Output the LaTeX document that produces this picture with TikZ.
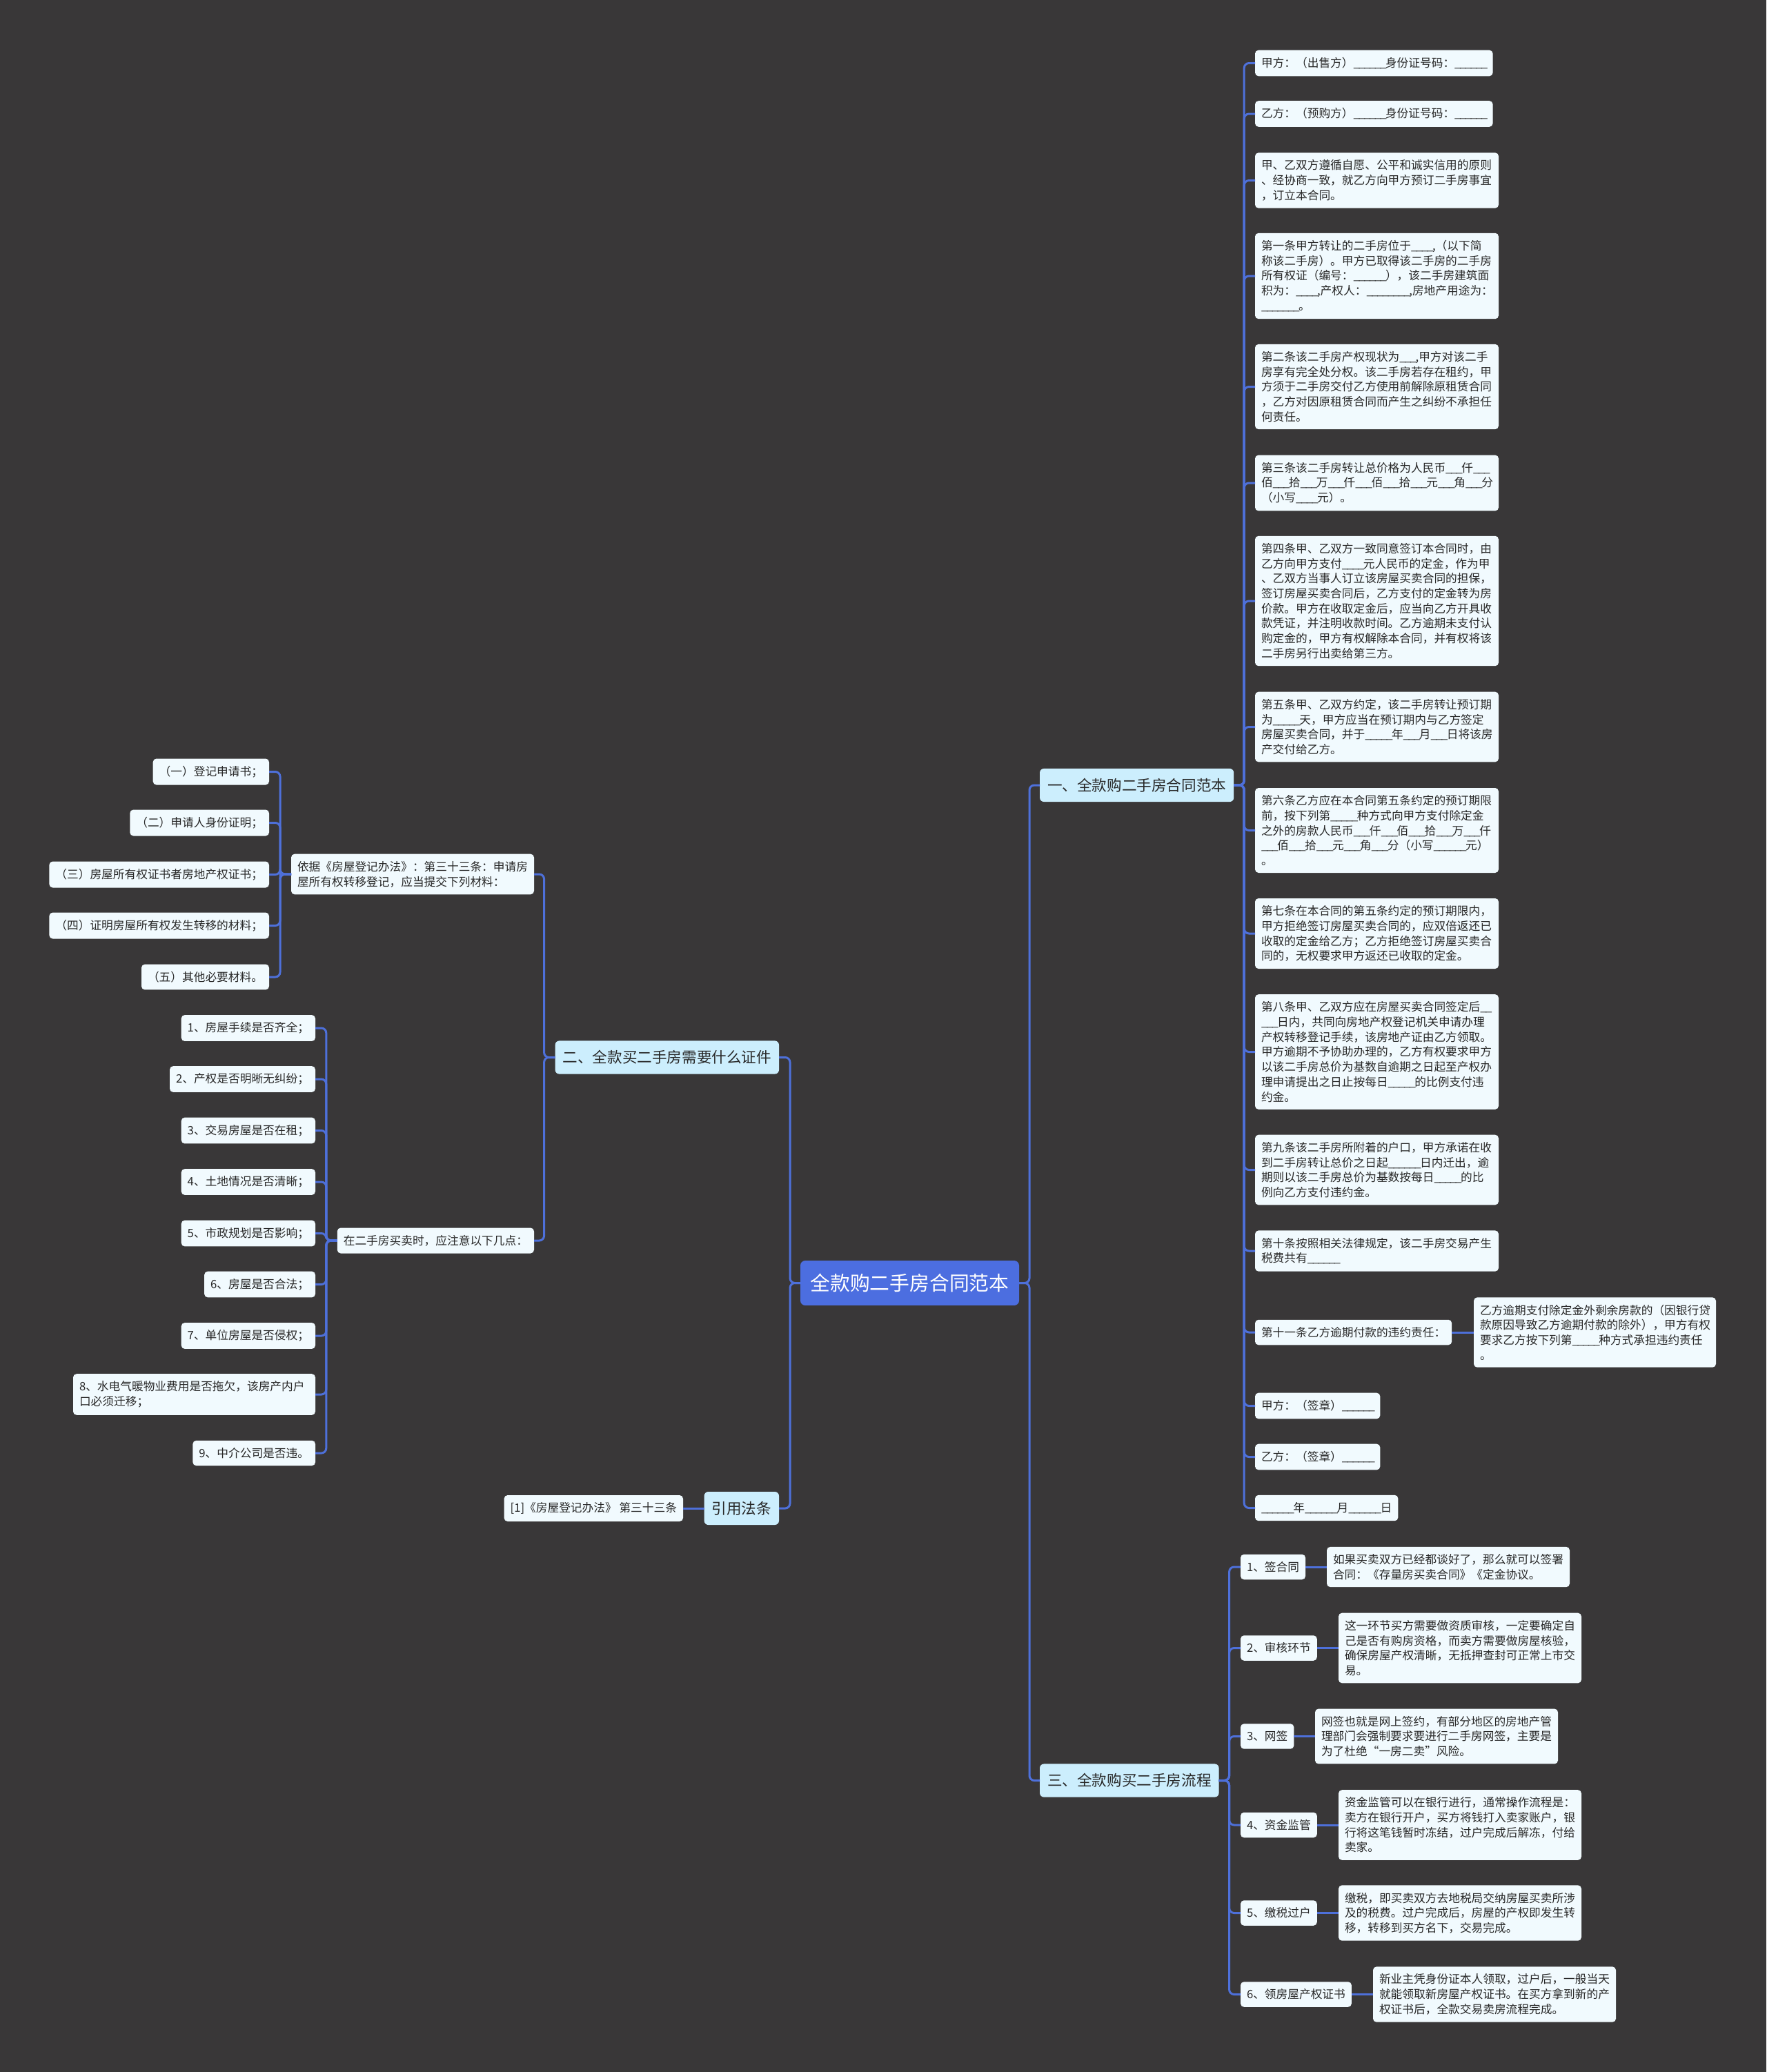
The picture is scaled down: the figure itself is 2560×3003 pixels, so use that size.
\documentclass[tikz,border=0pt]{standalone}
\usepackage{fontspec}
\setmainfont{Noto Sans CJK SC}
\definecolor{bgc}{RGB}{57,55,56}
\definecolor{leafc}{RGB}{241,250,254}
\definecolor{lvlc}{RGB}{204,238,253}
\definecolor{rootc}{RGB}{76,110,224}
\definecolor{linec}{RGB}{78,112,218}
\definecolor{txtc}{RGB}{40,40,40}
\newcommand\mmS{\fontsize{16.7}{21.7}\selectfont}
\newcommand\mmL{\fontsize{21.6}{26}\selectfont}
\newcommand\mmR{\fontsize{28.8}{34}\selectfont}
\newcommand\bl[1]{\foreach \i in {1,...,#1}{\_\kern-1.6pt}}
\begin{document}
\begin{tikzpicture}[x=1pt,y=-1pt,
  leaf/.style={fill=leafc, rounded corners=5pt, inner xsep=9pt, inner ysep=10.5pt, font=\mmS, text=txtc, outer sep=0pt},
  leafw/.style={leaf, text width=335pt, align=left},
  lvl/.style={fill=lvlc, rounded corners=6pt, inner xsep=11pt, inner ysep=14pt, font=\mmL, text=txtc, outer sep=0pt},
  rootn/.style={fill=rootc, rounded corners=7pt, inner xsep=14.5pt, inner ysep=19pt, font=\mmR, text=white, outer sep=0pt},
  conn/.style={draw=linec, line width=3pt, rounded corners=7pt}]
\fill[bgc] (0,0) rectangle (2560,3003);
\useasboundingbox (0,0) rectangle (2560,3003);

% root and main branches
\node[rootn] (root) at (1318.5,1859.5) {全款购二手房合同范本};
\node[lvl, anchor=west] (s1) at (1507,1138) {一、全款购二手房合同范本};
\node[lvl, anchor=west] (s3) at (1507,2580.5) {三、全款购买二手房流程};
\node[lvl, anchor=east] (s2) at (1129,1532.5) {二、全款买二手房需要什么证件};
\node[lvl, anchor=east] (law) at (1129,2186) {引用法条};

% branch one
\node[leaf, anchor=west] (a1) at (1819,91.5) {甲方：（出售方）\bl{6}身份证号码：\bl{6}};
\node[leaf, anchor=west] (a2) at (1819,165) {乙方：（预购方）\bl{6}身份证号码：\bl{6}};
\node[leafw, anchor=west] (a3) at (1819,261.5) {甲、乙双方遵循自愿、公平和诚实信用的原则\\、经协商一致，就乙方向甲方预订二手房事宜\\，订立本合同。};
\node[leafw, anchor=west] (a4) at (1819,400) {第一条甲方转让的二手房位于\bl{4},（以下简\\称该二手房）。甲方已取得该二手房的二手房\\所有权证（编号：\bl{6}），该二手房建筑面\\积为：\bl{4},产权人：\bl{8},房地产用途为：\\\bl{7}。};
\node[leafw, anchor=west] (a5) at (1819,560.5) {第二条该二手房产权现状为\bl{3},甲方对该二手\\房享有完全处分权。该二手房若存在租约，甲\\方须于二手房交付乙方使用前解除原租赁合同\\，乙方对因原租赁合同而产生之纠纷不承担任\\何责任。};
\node[leafw, anchor=west] (a6) at (1819,700) {第三条该二手房转让总价格为人民币\bl{3}仟\bl{3}\\佰\bl{3}拾\bl{3}万\bl{3}仟\bl{3}佰\bl{3}拾\bl{3}元\bl{3}角\bl{3}分\\（小写\bl{4}元）。};
\node[leafw, anchor=west] (a7) at (1819,871) {第四条甲、乙双方一致同意签订本合同时，由\\乙方向甲方支付\bl{4}元人民币的定金，作为甲\\、乙双方当事人订立该房屋买卖合同的担保，\\签订房屋买卖合同后，乙方支付的定金转为房\\价款。甲方在收取定金后，应当向乙方开具收\\款凭证，并注明收款时间。乙方逾期未支付认\\购定金的，甲方有权解除本合同，并有权将该\\二手房另行出卖给第三方。};
\node[leafw, anchor=west] (a8) at (1819,1053.5) {第五条甲、乙双方约定，该二手房转让预订期\\为\bl{5}天，甲方应当在预订期内与乙方签定\\房屋买卖合同，并于\bl{5}年\bl{3}月\bl{3}日将该房\\产交付给乙方。};
\node[leafw, anchor=west] (a9) at (1819,1203.5) {第六条乙方应在本合同第五条约定的预订期限\\前，按下列第\bl{5}种方式向甲方支付除定金\\之外的房款人民币\bl{3}仟\bl{3}佰\bl{3}拾\bl{3}万\bl{3}仟\\\bl{3}佰\bl{3}拾\bl{3}元\bl{3}角\bl{3}分（小写\bl{6}元）\\。};
\node[leafw, anchor=west] (a10) at (1819,1353) {第七条在本合同的第五条约定的预订期限内，\\甲方拒绝签订房屋买卖合同的，应双倍返还已\\收取的定金给乙方；乙方拒绝签订房屋买卖合\\同的，无权要求甲方返还已收取的定金。};
\node[leafw, anchor=west] (a11) at (1819,1524.5) {第八条甲、乙双方应在房屋买卖合同签定后\bl{2}\\\bl{3}日内，共同向房地产权登记机关申请办理\\产权转移登记手续，该房地产证由乙方领取。\\甲方逾期不予协助办理的，乙方有权要求甲方\\以该二手房总价为基数自逾期之日起至产权办\\理申请提出之日止按每日\bl{5}的比例支付违\\约金。};
\node[leafw, anchor=west] (a12) at (1819,1695.5) {第九条该二手房所附着的户口，甲方承诺在收\\到二手房转让总价之日起\bl{6}日内迁出，逾\\期则以该二手房总价为基数按每日\bl{5}的比\\例向乙方支付违约金。};
\node[leafw, anchor=west] (a13) at (1819,1813) {第十条按照相关法律规定，该二手房交易产生\\税费共有\bl{6}};
\node[leaf, anchor=west] (a14) at (1819,1931) {第十一条乙方逾期付款的违约责任：};
\node[leafw, text width=333pt, anchor=west] (a14c) at (2136,1931) {乙方逾期支付除定金外剩余房款的（因银行贷\\款原因导致乙方逾期付款的除外），甲方有权\\要求乙方按下列第\bl{5}种方式承担违约责任\\。};
\node[leaf, anchor=west] (a15) at (1819,2037.5) {甲方：（签章）\bl{6}};
\node[leaf, anchor=west] (a16) at (1819,2111.5) {乙方：（签章）\bl{6}};
\node[leaf, anchor=west] (a17) at (1819,2185.5) {\bl{6}年\bl{6}月\bl{6}日};

% branch three
\node[leaf, anchor=west] (b1) at (1798,2271) {1、签合同};
\node[leafw, text width=334pt, anchor=west] (b1c) at (1923,2271) {如果买卖双方已经都谈好了，那么就可以签署\\合同：《存量房买卖合同》《定金协议。};
\node[leaf, anchor=west] (b2) at (1798,2388.5) {2、审核环节};
\node[leafw, text width=334pt, anchor=west] (b2c) at (1940,2388.5) {这一环节买方需要做资质审核，一定要确定自\\己是否有购房资格，而卖方需要做房屋核验，\\确保房屋产权清晰，无抵押查封可正常上市交\\易。};
\node[leaf, anchor=west] (b3) at (1798,2516.5) {3、网签};
\node[leafw, text width=334pt, anchor=west] (b3c) at (1906,2516.5) {网签也就是网上签约，有部分地区的房地产管\\理部门会强制要求要进行二手房网签，主要是\\为了杜绝“一房二卖”风险。};
\node[leaf, anchor=west] (b4) at (1798,2645) {4、资金监管};
\node[leafw, text width=334pt, anchor=west] (b4c) at (1940,2645) {资金监管可以在银行进行，通常操作流程是：\\卖方在银行开户，买方将钱打入卖家账户，银\\行将这笔钱暂时冻结，过户完成后解冻，付给\\卖家。};
\node[leaf, anchor=west] (b5) at (1798,2772.5) {5、缴税过户};
\node[leafw, text width=334pt, anchor=west] (b5c) at (1940,2772.5) {缴税，即买卖双方去地税局交纳房屋买卖所涉\\及的税费。过户完成后，房屋的产权即发生转\\移，转移到买方名下，交易完成。};
\node[leaf, anchor=west] (b6) at (1798,2890.5) {6、领房屋产权证书};
\node[leafw, text width=334pt, anchor=west] (b6c) at (1990,2890.5) {新业主凭身份证本人领取，过户后，一般当天\\就能领取新房屋产权证书。在买方拿到新的产\\权证书后，全款交易卖房流程完成。};

% branch two
\node[leafw, text width=334pt, anchor=east] (g) at (774,1267) {依据《房屋登记办法》：第三十三条：申请房\\屋所有权转移登记，应当提交下列材料：};
\node[leaf, anchor=east] (c1) at (390,1118.5) {（一）登记申请书；};
\node[leaf, anchor=east] (c2) at (390,1192.5) {（二）申请人身份证明；};
\node[leaf, anchor=east] (c3) at (390,1267.5) {（三）房屋所有权证书者房地产权证书；};
\node[leaf, anchor=east] (c4) at (390,1341.5) {（四）证明房屋所有权发生转移的材料；};
\node[leaf, anchor=east] (c5) at (390,1416) {（五）其他必要材料。};
\node[leaf, anchor=east] (p) at (774,1798) {在二手房买卖时，应注意以下几点：};
\node[leaf, anchor=east] (d1) at (457,1490) {1、房屋手续是否齐全；};
\node[leaf, anchor=east] (d2) at (457,1564) {2、产权是否明晰无纠纷；};
\node[leaf, anchor=east] (d3) at (457,1638.5) {3、交易房屋是否在租；};
\node[leaf, anchor=east] (d4) at (457,1713) {4、土地情况是否清晰；};
\node[leaf, anchor=east] (d5) at (457,1787.5) {5、市政规划是否影响；};
\node[leaf, anchor=east] (d6) at (457,1861.5) {6、房屋是否合法；};
\node[leaf, anchor=east] (d7) at (457,1936) {7、单位房屋是否侵权；};
\node[leafw, text width=333pt, anchor=east] (d8) at (457,2021) {8、水电气暖物业费用是否拖欠，该房产内户\\口必须迁移；};
\node[leaf, anchor=east] (d9) at (457,2106) {9、中介公司是否违。};
\node[leaf, anchor=east] (ref) at (990,2186) {[1]《房屋登记办法》 第三十三条};

% connectors
\foreach \c in {s1,s3} \draw[conn] (root.east) -- ++(15,0) |- (\c.west);
\foreach \c in {s2,law} \draw[conn] (root.west) -- ++(-15,0) |- (\c.east);
\foreach \c in {a1,a2,a3,a4,a5,a6,a7,a8,a9,a10,a11,a12,a13,a14,a15,a16,a17}
  \draw[conn] (s1.east) -- ++(15,0) |- (\c.west);
\draw[conn] (a14.east) -- (a14c.west);
\foreach \c in {b1,b2,b3,b4,b5,b6} {
  \draw[conn] (s3.east) -- ++(15,0) |- (\c.west);
  \draw[conn] (\c.east) -- (\c c.west);
}
\foreach \c in {g,p} \draw[conn] (s2.west) -- ++(-16,0) |- (\c.east);
\foreach \c in {c1,c2,c3,c4,c5} \draw[conn] (g.west) -- ++(-16,0) |- (\c.east);
\foreach \c in {d1,d2,d3,d4,d5,d6,d7,d8,d9} \draw[conn] (p.west) -- ++(-16,0) |- (\c.east);
\draw[conn] (law.west) -- (ref.east);
\end{tikzpicture}
\end{document}
